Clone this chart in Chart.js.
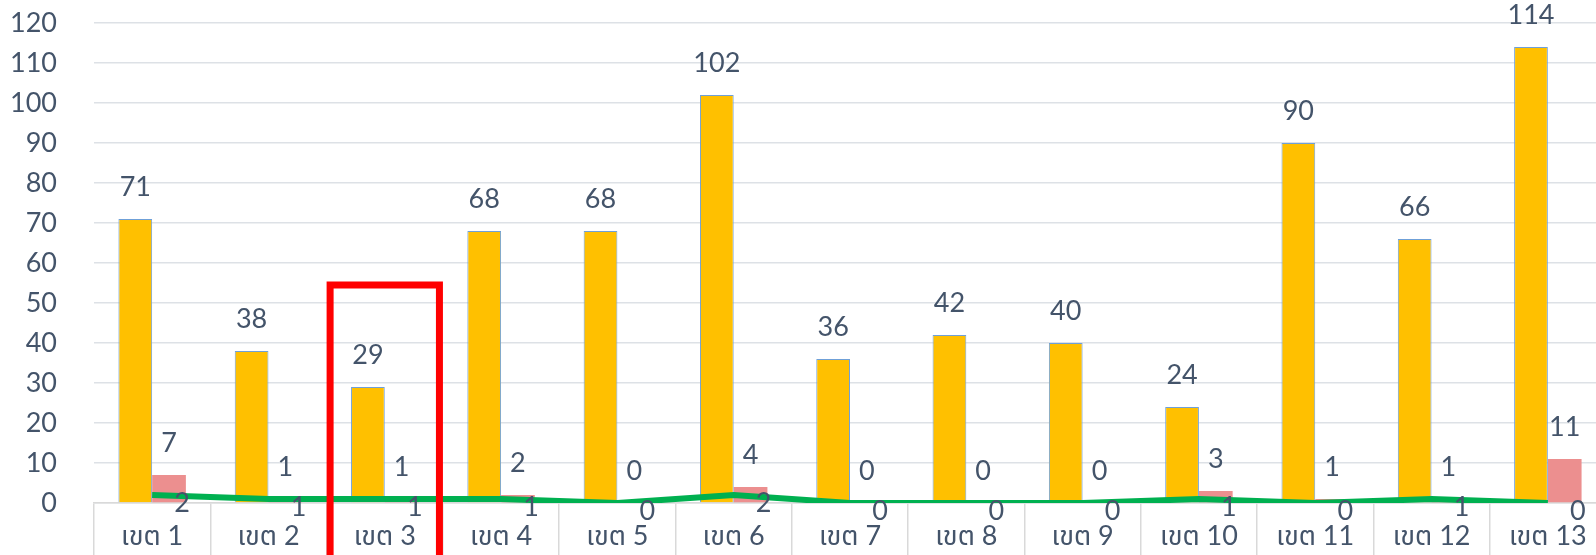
<!DOCTYPE html>
<html lang="th">
<head>
  <meta charset="UTF-8" />
  <title>เขต</title>
  <script src="https://cdn.jsdelivr.net/npm/chart.js"></script>
  <style>
    html, body { margin: 0; padding: 0; background: #fff; overflow: hidden; }
    #wrap { position: absolute; left: 0; top: 0; width: 1606px; height: 555px; }
  </style>
</head>
<body>

<div id="wrap"><canvas id="chart"></canvas></div>

<script>
  // data
  const categories = ['เขต 1', 'เขต 2', 'เขต 3', 'เขต 4', 'เขต 5', 'เขต 6', 'เขต 7',
                      'เขต 8', 'เขต 9', 'เขต 10', 'เขต 11', 'เขต 12', 'เขต 13'];
  const orangeValues = [71, 38, 29, 68, 68, 102, 36, 42, 40, 24, 90, 66, 114];
  const pinkValues   = [7, 1, 1, 2, 0, 4, 0, 0, 0, 3, 1, 1, 11];
  const greenValues  = [2, 1, 1, 1, 0, 2, 0, 0, 0, 1, 0, 1, 0];
  const yTicks = [0, 10, 20, 30, 40, 50, 60, 70, 80, 90, 100, 110, 120];
  const highlighted = 'เขต 3';
  const highlightTop = 54.5;

  const FONT = "Lato, 'Noto Sans Thai', 'Noto Sans', sans-serif";
  const TEXT = '#44546A';

  // value labels over bars, beside line points
  const valueLabels = {
    id: 'valueLabels',
    afterDatasetsDraw(chart) {
      const ctx = chart.ctx;
      ctx.save();
      ctx.font = '27px ' + FONT;
      ctx.fillStyle = TEXT;
      ctx.textAlign = 'center';
      ctx.textBaseline = 'middle';
      chart.data.datasets.forEach((ds, i) => {
        const meta = chart.getDatasetMeta(i);
        meta.data.forEach((el, j) => {
          const v = ds.data[j];
          if (ds.type === 'line') {
            ctx.fillText(v, el.x + 30, el.y + 8);
          } else {
            ctx.fillText(v, el.x, el.y - 32);
          }
        });
      });
      ctx.restore();
    }
  };

  // red box round one category
  const highlightBox = {
    id: 'highlightBox',
    afterDraw(chart) {
      const x = chart.scales.x, y = chart.scales.y;
      const idx = categories.indexOf(highlighted);
      const cx = x.getPixelForValue(idx);
      const w = x.getPixelForValue(1) - x.getPixelForValue(0);
      const ctx = chart.ctx;
      ctx.save();
      ctx.strokeStyle = '#FF0000';
      ctx.lineWidth = 7;
      ctx.strokeRect(cx - 0.47 * w, y.getPixelForValue(highlightTop), 0.94 * w, chart.height);
      ctx.restore();
    }
  };

  new Chart(document.getElementById('chart'), {
    type: 'bar',
    data: {
      labels: categories,
      datasets: [
        {
          type: 'line',
          data: greenValues,
          borderColor: '#00B050',
          borderWidth: 6,
          pointRadius: 0,
          tension: 0,
          order: 0
        },
        {
          data: orangeValues,
          backgroundColor: '#FFC000',
          borderColor: '#6FA0D8',
          borderWidth: 1,
          categoryPercentage: 0.58,
          barPercentage: 1,
          order: 1
        },
        {
          data: pinkValues,
          backgroundColor: '#EC8F8F',
          borderWidth: 0,
          categoryPercentage: 0.58,
          barPercentage: 1,
          order: 1
        }
      ]
    },
    options: {
      responsive: true,
      maintainAspectRatio: false,
      animation: false,
      layout: { padding: { top: 23, right: 0, left: 0, bottom: 0 } },
      plugins: {
        legend: { display: false },
        tooltip: { enabled: false }
      },
      scales: {
        x: {
          offset: true,
          afterFit(s) { s.height = 52; s.paddingLeft = 0; s.paddingRight = 0; },
          grid: {
            offset: true,
            drawOnChartArea: false,
            tickLength: 52,
            color: '#D9D9D9',
            lineWidth: 1.5
          },
          border: { display: true, color: '#D9D9D9', width: 1.5 },
          ticks: {
            color: TEXT,
            font: { family: FONT, size: 27 },
            padding: -35,
            maxRotation: 0,
            autoSkip: false
          }
        },
        y: {
          min: 0,
          max: 120,
          afterFit(s) { s.width = 94; s.paddingTop = 0; s.paddingBottom = 0; },
          afterBuildTicks(s) { s.ticks = yTicks.map(v => ({ value: v })); },
          grid: { color: '#DDE1E6', lineWidth: 1.5, drawTicks: false },
          border: { display: false },
          ticks: {
            color: TEXT,
            font: { family: FONT, size: 27 },
            padding: 37
          }
        }
      }
    },
    plugins: [valueLabels, highlightBox]
  });
</script>
</body>
</html>
